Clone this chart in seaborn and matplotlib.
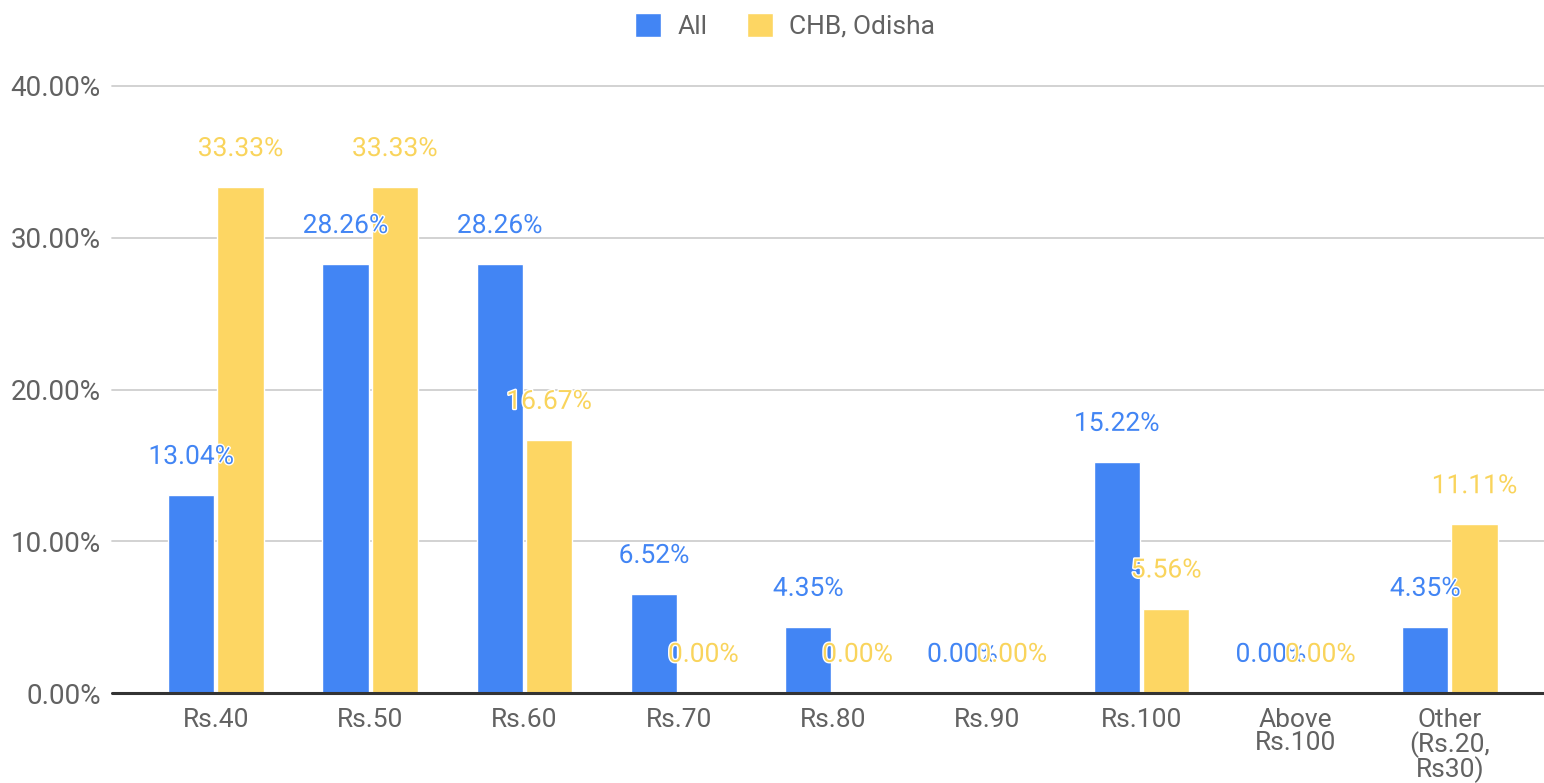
import matplotlib
matplotlib.use("Agg")
import matplotlib.pyplot as plt
import matplotlib.patheffects as pe
import pandas as pd
import seaborn as sns

# Price categories and share of respondents per category (%)
categories = ["Rs.40", "Rs.50", "Rs.60", "Rs.70", "Rs.80", "Rs.90", "Rs.100",
              "Above\nRs.100", "Other\n(Rs.20,\nRs30)"]
all_values = [13.04, 28.26, 28.26, 6.52, 4.35, 0.00, 15.22, 0.00, 4.35]
chb_odisha_values = [33.33, 33.33, 16.67, 0.00, 0.00, 0.00, 5.56, 0.00, 11.11]
series_names = ["All", "CHB, Odisha"]
y_ticks = [0, 10, 20, 30, 40]

colors = {"All": "#4285F4", "CHB, Odisha": "#FDD663"}
label_colors = {"All": "#4285F4", "CHB, Odisha": "#F9D45C"}
text_grey = "#626262"

df = pd.DataFrame({
    "category": categories * 2,
    "share": all_values + chb_odisha_values,
    "series": [series_names[0]] * len(categories) + [series_names[1]] * len(categories),
})

sns.set_theme(style="white")
plt.rcParams["font.family"] = ["Roboto", "DejaVu Sans"]

fig = plt.figure(figsize=(15.44, 7.83), dpi=100)
W, H = 1544, 783
ax = fig.add_axes([112 / W, 1 - 693 / H, (1544 - 112) / W, (693 - 86) / H])

sns.barplot(data=df, x="category", y="share", hue="series",
            hue_order=series_names, order=categories, palette=colors,
            width=0.64, gap=0.06, saturation=1, ax=ax, legend=True,
            zorder=2)

ax.set_xlim(-0.674, 8.61)
ax.set_ylim(0, 40)
ax.set_yticks(y_ticks)
ax.set_yticklabels([f"{t:.2f}%" for t in y_ticks])
ax.set_xlabel("")
ax.set_ylabel("")
for s in ax.spines.values():
    s.set_visible(False)

ax.yaxis.grid(True, color="#cfcfcf", linewidth=1.3, zorder=0)
for gl in ax.get_ygridlines():
    gl.set_clip_on(False)
ax.set_axisbelow(True)
ax.axhline(0, color="#333333", linewidth=2.2, zorder=3, clip_on=False)

ax.tick_params(axis="y", length=0, pad=8, labelsize=20, labelcolor=text_grey)
ax.tick_params(axis="x", length=0, pad=11, labelsize=19, labelcolor=text_grey)
for lbl in ax.get_xticklabels():
    lbl.set_linespacing(0.93)

# Value labels above each bar, taken from the bar heights
for i, (container, name) in enumerate(zip(ax.containers, series_names)):
    for bar in container:
        h = bar.get_height()
        ax.annotate(f"{h:.2f}%", (bar.get_x() + bar.get_width() / 2, h),
                    xytext=(0, 27.5), textcoords="offset points",
                    ha="center", va="center", fontsize=19,
                    color=label_colors[name], zorder=5 + i,
                    path_effects=[pe.withStroke(linewidth=2, foreground="white")])

sns.move_legend(ax, "center", bbox_to_anchor=(785 / W, 1 - 26 / H),
                bbox_transform=fig.transFigure, ncol=2, frameon=False,
                title=None, fontsize=19, handlelength=1.0, handleheight=1.0,
                handletextpad=0.6, columnspacing=1.5)
for t in ax.get_legend().get_texts():
    t.set_color(text_grey)

fig.savefig("out.png", dpi=100)
